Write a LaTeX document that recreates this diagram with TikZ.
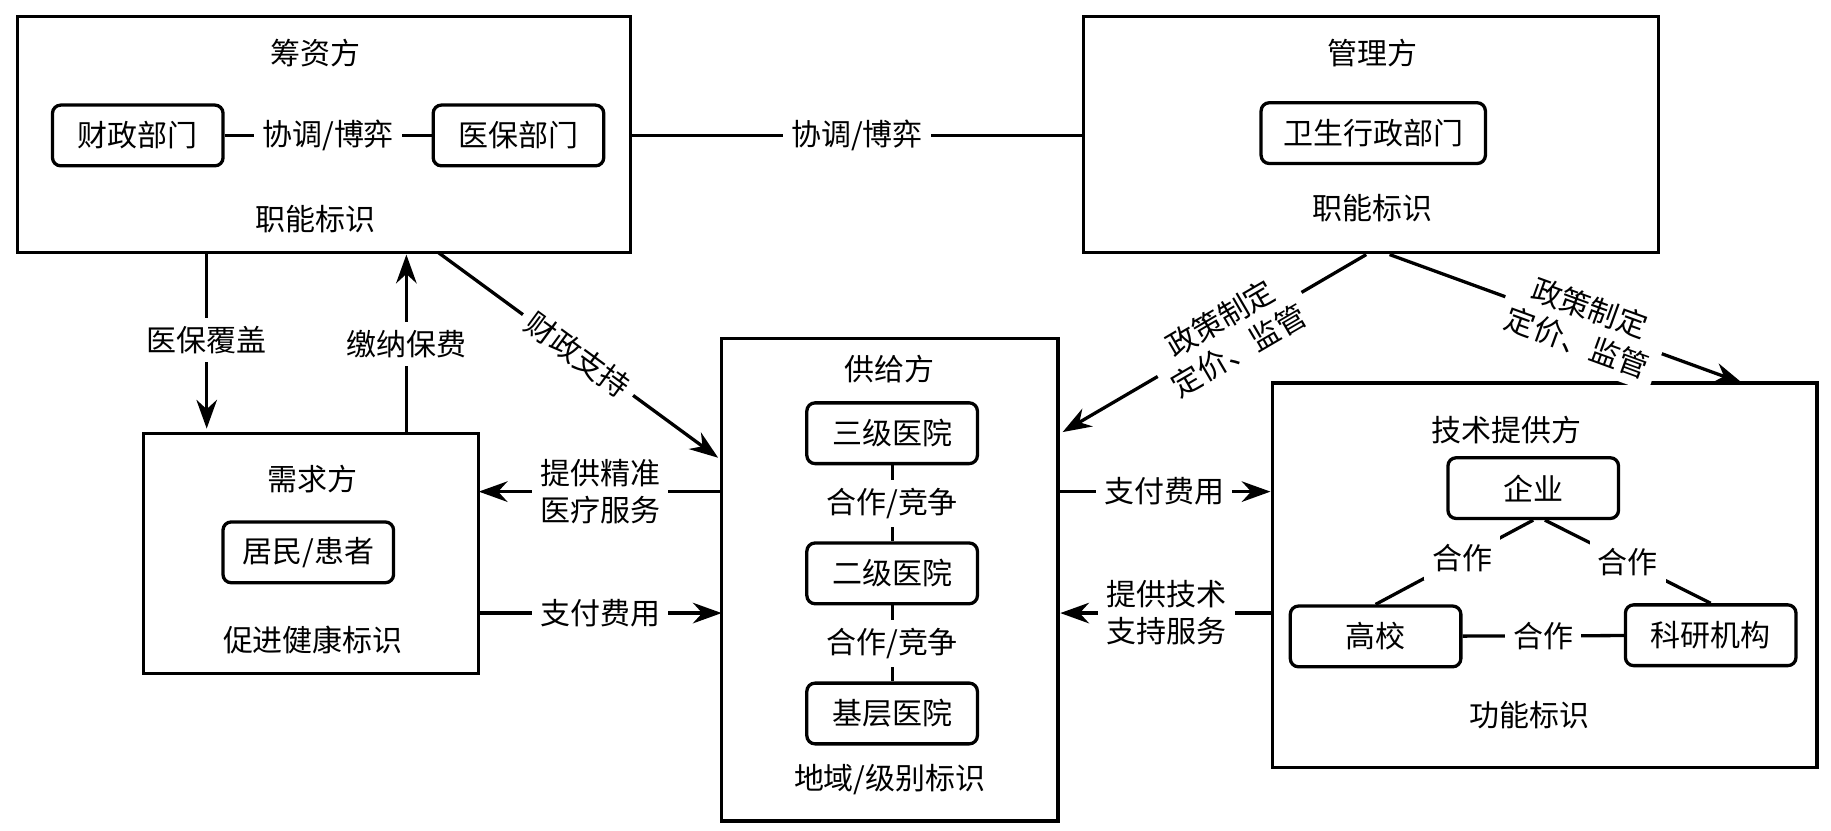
\documentclass[tikz,border=0pt]{standalone}
\usepackage{fontspec}
\setmainfont{Noto Sans CJK SC}
\usetikzlibrary{arrows.meta}
\begin{document}
\begin{tikzpicture}[x=0.01cm,y=-0.01cm,font=\fontsize{7.3}{9}\selectfont,
  box/.style={draw,thick,rounded corners=2pt,minimum width=1.46cm,minimum height=0.52cm,inner sep=0pt},
  frame/.style={draw,thick},
  lab/.style={fill=white,inner sep=2pt,align=center},
  arr/.style={-{Stealth[length=7pt,width=5pt]},thick}]
   \useasboundingbox (0,0) rectangle (1568,711);
   % 筹资方
   \draw[frame] (15,14) rectangle (540,216);
   \node at (270,45) {筹资方};
   \node[box] (czb) at (118,116) {财政部门};
   \node[box] (ybb) at (444,116) {医保部门};
   \node at (270,188) {职能标识};
   \draw[thick] (czb) -- node[lab] {协调/博弈} (ybb);
   % 管理方
   \draw[frame] (928,14) rectangle (1420,216);
   \node at (1175,45) {管理方};
   \node[box,minimum width=1.92cm] (wsb) at (1176,114) {卫生行政部门};
   \node at (1175,178) {职能标识};
   \coordinate (cz) at (540,116);
   \coordinate (gl) at (928,116);
   \draw[thick] (cz) -- node[lab] {协调/博弈} (gl);
   % 需求方
   \draw[frame] (123,371) rectangle (410,577);
   \node at (268,410) {需求方};
   \node[box] (jm) at (264,473) {居民/患者};
   \node at (268,548) {促进健康标识};
   % 供给方
   \draw[frame] (618,290) rectangle (906,703);
   \node at (762,316) {供给方};
   \node[box] (sj) at (764,371) {三级医院};
   \node[box] (ej) at (764,491) {二级医院};
   \node[box] (jc) at (764,611) {基层医院};
   \node at (762,668) {地域/级别标识};
   \draw[thick] (sj) -- node[lab] {合作/竞争} (ej);
   \draw[thick] (ej) -- node[lab] {合作/竞争} (jc);
   % 技术提供方
   \draw[frame] (1090,328) rectangle (1556,657);
   \node at (1290,368) {技术提供方};
   \node[box] (qy) at (1313,418) {企业};
   \node[box] (gx) at (1178,545) {高校};
   \node[box] (ky) at (1465,544) {科研机构};
   \node at (1310,612) {功能标识};
   \draw[thick] (qy.south) -- node[lab,pos=.45] {合作} (gx.north);
   \draw[thick] (qy.south) ++(10,0) -- node[lab,pos=.5] {合作} (ky.north);
   \draw[thick] (gx) -- node[lab] {合作} (ky);
   % 箭头
   \coordinate (a1) at (177,216); \coordinate (b1) at (177,367);
   \draw[arr] (a1) -- node[lab] {医保覆盖} (b1);
   \coordinate (a2) at (348,371); \coordinate (b2) at (348,218);
   \draw[arr] (a2) -- node[lab] {缴纳保费} (b2);
   \coordinate (a3) at (375,216); \coordinate (b3) at (615,392);
   \draw[arr] (a3) -- node[lab,sloped,pos=.5] {财政支持} (b3);
   \coordinate (a4) at (618,421); \coordinate (b4) at (410,421);
   \draw[arr] (a4) -- node[lab] {提供精准\\医疗服务} (b4);
   \coordinate (a5) at (410,525); \coordinate (b5) at (618,525);
   \draw[arr] (a5) -- node[lab] {支付费用} (b5);
   \coordinate (a6) at (1170,218); \coordinate (b6) at (910,370);
   \draw[arr] (a6) -- node[lab,sloped,pos=.45] {政策制定\\定价、监管} (b6);
   \coordinate (a7) at (1190,218); \coordinate (b7) at (1492,328);
   \draw[arr] (a7) -- node[lab,sloped,pos=.55] {政策制定\\定价、监管} (b7);
   \coordinate (a8) at (906,421); \coordinate (b8) at (1088,421);
   \draw[arr] (a8) -- node[lab] {支付费用} (b8);
   \coordinate (a9) at (1090,525); \coordinate (b9) at (908,525);
   \draw[arr] (a9) -- node[lab] {提供技术\\支持服务} (b9);
\end{tikzpicture}
\end{document}
